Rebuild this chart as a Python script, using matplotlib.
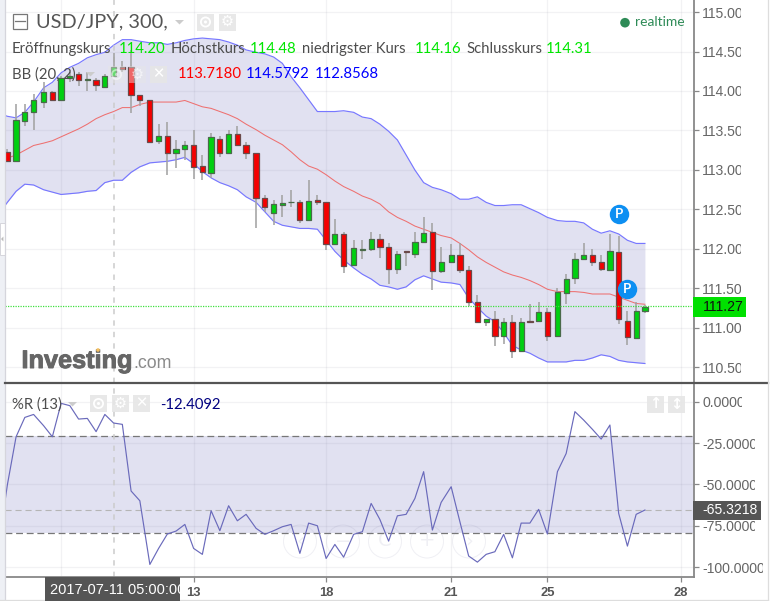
import numpy as np
import matplotlib
matplotlib.use("Agg")
import matplotlib.pyplot as plt
import matplotlib.patheffects as pe
from matplotlib.patches import Rectangle, Circle, Polygon
from matplotlib.transforms import Bbox

plt.rcParams['font.family'] = ['Liberation Sans', 'DejaVu Sans']

opens = [113.23,113.11,113.62,113.73,113.86,113.99,113.89,114.17,114.21,114.14,114.14,114.05,114.19,114.30,114.30,113.95,113.89,113.37,113.43,113.21,113.26,113.31,113.05,112.96,113.39,113.21,113.46,113.32,113.21,112.65,112.45,112.56,112.59,112.59,112.37,112.62,112.59,112.06,112.19,111.80,111.99,112.00,112.13,112.03,111.75,111.97,111.94,112.09,112.22,111.72,111.83,111.93,111.74,111.33,111.07,111.11,110.90,111.07,110.71,111.09,111.09,111.20,110.90,111.44,111.63,111.87,111.92,111.83,111.73,111.96,111.09,110.87,111.21]
highs = [113.27,113.83,113.84,113.96,114.12,114.00,114.19,114.24,114.24,114.24,114.16,114.22,114.48,114.38,114.52,113.95,113.89,113.58,113.61,113.38,113.37,113.51,113.19,113.47,113.43,113.50,113.56,113.36,113.21,112.68,112.62,112.68,112.75,112.62,112.87,112.68,112.59,112.38,112.22,112.11,112.11,112.22,112.19,112.08,111.98,111.97,112.22,112.41,112.33,112.03,112.06,112.07,111.79,111.42,111.11,111.21,111.12,111.17,111.13,111.30,111.33,111.25,111.50,111.68,111.95,112.08,112.00,111.92,112.19,112.16,111.21,111.33,111.29]
lows = [113.11,113.11,113.56,113.51,113.79,113.87,113.89,114.11,114.06,114.00,114.00,114.05,114.18,114.24,113.72,113.81,113.35,113.33,112.94,113.03,113.13,112.88,112.87,112.90,113.17,113.21,113.30,113.14,112.27,112.47,112.30,112.40,112.53,112.33,112.35,112.56,111.99,112.06,111.69,111.80,111.87,111.97,111.89,111.56,111.68,111.78,111.89,112.09,111.48,111.70,111.82,111.70,111.28,111.06,111.03,110.77,110.80,110.62,110.71,111.07,111.07,110.83,110.90,111.30,111.56,111.87,111.78,111.72,111.72,111.05,110.78,110.87,111.19]
closes = [113.11,113.63,113.73,113.88,113.99,113.89,114.17,114.19,114.14,114.15,114.07,114.19,114.30,114.28,113.95,113.89,113.35,113.43,113.21,113.26,113.32,113.04,112.97,113.42,113.21,113.46,113.31,113.21,112.64,112.53,112.57,112.58,112.60,112.37,112.61,112.59,112.06,112.19,111.78,112.01,112.00,112.13,112.02,111.75,111.94,111.96,112.09,112.20,111.72,111.83,111.92,111.74,111.33,111.07,111.11,110.90,111.07,110.71,111.07,111.07,111.20,110.90,111.45,111.62,111.87,111.92,111.83,111.75,111.97,111.11,110.88,111.22,111.27]

# Series start one bar before the first visible candle
bb_upper = [113.72,113.68,113.66,113.73,113.86,114.04,114.11,114.23,114.30,114.35,114.42,114.46,114.49,114.58,114.65,114.65,114.63,114.61,114.61,114.59,114.61,114.64,114.66,114.67,114.66,114.65,114.62,114.58,114.52,114.49,114.47,114.43,114.35,114.18,114.04,113.89,113.74,113.74,113.74,113.75,113.73,113.67,113.65,113.58,113.49,113.38,113.19,113.00,112.84,112.78,112.75,112.70,112.63,112.63,112.66,112.59,112.55,112.55,112.56,112.56,112.51,112.46,112.40,112.36,112.35,112.35,112.33,112.25,112.20,112.23,112.19,112.11,112.07,112.07]
bb_mid = [113.12,113.15,113.19,113.25,113.31,113.34,113.37,113.42,113.47,113.52,113.58,113.65,113.70,113.74,113.79,113.79,113.83,113.86,113.86,113.86,113.86,113.88,113.84,113.80,113.78,113.74,113.70,113.65,113.58,113.51,113.44,113.38,113.32,113.23,113.13,113.05,113.01,112.94,112.86,112.79,112.73,112.67,112.63,112.57,112.47,112.40,112.35,112.29,112.25,112.21,112.17,112.14,112.07,111.99,111.90,111.83,111.77,111.71,111.67,111.64,111.60,111.55,111.49,111.46,111.46,111.46,111.45,111.43,111.43,111.43,111.39,111.35,111.31,111.30]
bb_lower = [112.44,112.59,112.73,112.82,112.81,112.75,112.72,112.69,112.70,112.71,112.73,112.74,112.84,112.87,112.87,112.97,113.04,113.09,113.10,113.11,113.13,113.16,113.08,112.98,112.90,112.84,112.80,112.75,112.66,112.59,112.47,112.35,112.30,112.28,112.26,112.26,112.25,112.11,111.97,111.86,111.76,111.68,111.62,111.54,111.52,111.49,111.52,111.61,111.66,111.62,111.58,111.57,111.55,111.38,111.26,111.15,111.08,110.94,110.78,110.72,110.68,110.62,110.57,110.57,110.57,110.59,110.59,110.62,110.66,110.64,110.59,110.57,110.56,110.55]
williams_r = [-87.3,-50.4,-21.2,-9.5,-7.7,-14.5,-21.2,-1.0,-2.4,-10.5,-10.1,-18.1,-7.7,-12.9,-13.7,-54.0,-59.9,-98.4,-88.7,-80.0,-78.2,-74.2,-88.7,-92.3,-65.9,-78.0,-62.9,-72.0,-68.1,-76.6,-80.2,-78.0,-75.6,-74.2,-91.7,-73.4,-75.0,-94.8,-86.3,-94.0,-80.2,-78.6,-61.5,-71.2,-84.3,-69.0,-68.1,-58.5,-42.3,-77.6,-60.9,-51.4,-72.6,-93.3,-97.0,-92.3,-90.7,-80.2,-94.4,-73.4,-73.4,-65.1,-80.0,-42.3,-31.3,-6.0,-11.1,-16.7,-22.6,-14.1,-67.5,-87.3,-68.1,-65.5]

price_ticks = [110.5,111.0,111.5,112.0,112.5,113.0,113.5,114.0,114.5,115.0]
r_ticks = [0,-25,-50,-75,-100]
date_tick_bars = [6,21,36,50,61,76]
date_tick_labels = ['','13','18','21','25','28']
session_breaks = [3,15,27,38,49,61,73]
last_price = 111.28
last_r = -65.32
r_upper, r_lower = -20.6, -79.6
cross_bar = 12
pivot_bars = [69,70]
pivot_prices = [112.44,111.49]

W, H = 770, 601
C_TXT = '#4d4d4d'; C_AX = '#666666'; C_GREEN = '#00e600'; C_FILL = (0.35,0.35,0.7,0.175); C_GRID = (0.5,0.5,0.6,0.10)

def bar_pos(i):
    i = np.asarray(i)
    return i + 0.145*np.searchsorted(session_breaks, i, side='left')

fig = plt.figure(figsize=(W/100, H/100), dpi=100, facecolor='white')
def mk(x0,y0,x1,y1):
    return fig.add_axes([x0/W, 1-y1/H, (x1-x0)/W, (y1-y0)/H])
ax = mk(5,0,694,382.7)
ax2 = mk(5,382.7,694,577)
xl = (-0.266,78.48)
for a in (ax,ax2):
    a.set_xlim(*xl)
    for s in ('left','top','bottom'):
        a.spines[s].set_visible(False)
    a.spines['right'].set_color('#888888'); a.spines['right'].set_linewidth(1.3)
    a.yaxis.tick_right()
ax.set_ylim(110.307,115.152)
ax2.set_ylim(-105.99,11.49)
ax2.spines['bottom'].set_visible(True); ax2.spines['bottom'].set_color('#888888'); ax2.spines['bottom'].set_linewidth(1.3)

idx = np.arange(len(opens))
pos = bar_pos(idx)
lpos = bar_pos(np.arange(-1,len(opens)))
op,hi,lo,cl = map(np.array,(opens,highs,lows,closes))

# grid
tpos = bar_pos(date_tick_bars)
for a,ticks in ((ax,price_ticks),(ax2,r_ticks)):
    for t in ticks:
        a.axhline(t,color=C_GRID,lw=0.9,zorder=1.5)
    for t in tpos:
        a.axvline(t,color=C_GRID,lw=0.9,zorder=1.5)

# bollinger
ax.fill_between(lpos,bb_lower,bb_upper,color=C_FILL,lw=0,zorder=1)
ax.plot(lpos,bb_upper,color='#7777ff',lw=0.85,zorder=2)
ax.plot(lpos,bb_lower,color='#7777ff',lw=0.85,zorder=2)
ax.plot(lpos,bb_mid,color='#ee7070',lw=0.75,zorder=2)

# candles
ax.vlines(pos,lo,hi,color='#a3a3a3',lw=1.15,zorder=3)
up = cl>=op
ax.bar(pos[up],(cl-op)[up],bottom=op[up],width=0.6,color='#00d010',edgecolor='#4a6a4a',lw=0.9,zorder=4)
ax.bar(pos[~up],(cl-op)[~up],bottom=op[~up],width=0.6,color='#f50000',edgecolor='#6a4a4a',lw=0.9,zorder=4)

ax.axhline(last_price,color='#40e040',lw=0.9,ls=(0,(1,1)),zorder=5)
ax.plot(bar_pos(pivot_bars),pivot_prices,ls='none',marker='o',ms=14,mfc='#0d8ff2',mec='none',zorder=6)
for b,p in zip(pivot_bars,pivot_prices):
    ax.text(bar_pos(b),p,'P',color='white',ha='center',va='center',fontsize=9.5,family='Lato',weight='bold',zorder=7)

# %R
ax2.axhspan(r_lower,r_upper,color=C_FILL,lw=0,zorder=1)
ax2.axhline(r_upper,color='#777777',lw=0.9,ls=(0,(5.5,3)),zorder=2)
ax2.axhline(r_lower,color='#777777',lw=0.9,ls=(0,(5.5,3)),zorder=2)
ax2.axhline(last_r,color='#b5b5b5',lw=0.8,ls=(0,(5.5,3.5)),zorder=2)
ax2.plot(lpos,williams_r,color='#6a6abb',lw=0.85,zorder=3)

for a in (ax,ax2):
    a.axvline(bar_pos(cross_bar),color='#cccccc',lw=1.1,ls=(0,(3.5,4)),zorder=2.5)

# axes ticks
def clip_px(t,x0,y0,x1,y1):
    t.set_clip_box(Bbox.from_extents(x0,H-y1,x1,H-y0)); t.set_clip_on(True)

ax.set_xticks([])
ax.set_yticks(price_ticks); ax.set_yticklabels([f'{v:.2f}' for v in price_ticks])
ax2.set_yticks(r_ticks); ax2.set_yticklabels([f'{v:.4f}' for v in r_ticks])
ax2.set_xticks(tpos); ax2.set_xticklabels(date_tick_labels,fontsize=9.4,fontweight='bold',color='#555555')
for a in (ax,ax2):
    a.tick_params(axis='y',length=3.6,width=0.9,color='#888888',labelcolor=C_AX,labelsize=10.1,pad=2.4)
ax2.tick_params(axis='x',length=3.6,width=0.9,color='#888888',pad=3.5)
for tk in ax.yaxis.get_major_ticks():
    clip_px(tk.label2,694,0,741,383)
for tk,x1 in zip(ax2.yaxis.get_major_ticks(),[741.5,755,755,755,763]):
    clip_px(tk.label2,694,383,x1,580)

# overlay for page furniture and annotations
ov = fig.add_axes([0,0,1,1],zorder=10)
ov.set_xlim(0,W); ov.set_ylim(H,0); ov.axis('off'); ov.patch.set_alpha(0)
def rect(x0,y0,x1,y1,fc,ec='none',lw=0,alpha=None,z=1):
    ov.add_patch(Rectangle((x0,y0),x1-x0,y1-y0,fc=fc,ec=ec,lw=lw,alpha=alpha,zorder=z))
def txt(x,y,s,c=C_TXT,size=10,fam='Lato',**k):
    return ov.text(x,y,s,color=c,fontsize=size,family=fam,va='center',ha=k.pop('ha','left'),zorder=k.pop('z',5),**k)

rect(0,0,4.5,H,'#eef0f5')
ov.plot([4.8,4.8],[0,H],color='#d5d5dc',lw=0.9)
rect(0,223,4.8,255,'white',ec='#d5d5dc',lw=0.7)
ov.add_patch(Polygon([[1,239],[3.4,236.5],[3.4,241.5]],fc='#bbbbbb',ec='none',zorder=3))
ov.plot([5,768],[382.7,382.7],color='#555555',lw=1.6,zorder=2)
ov.plot([768,768],[0,H],color='#dddddd',lw=0.9)
ov.plot([0,768],[600.3,600.3],color='#dddddd',lw=0.9)

# faint chart navigation circles
for cx,g in zip([300,343,385,427,469],['‹','−','C','+','›']):
    ov.add_patch(Circle((cx,541.5),16.5,fc='none',ec='#8888aa',alpha=0.13,lw=0.7,zorder=1))
    ov.text(cx,541,g,color='#8888aa',alpha=0.13,fontsize=14,family='DejaVu Sans',ha='center',va='center',zorder=1)

# header
rect(12.5,13.5,27,28.5,'white',ec='#777777',lw=0.9)
ov.plot([15,24.5],[21,21],color='#777777',lw=0.9)
txt(36,22,'USD/JPY, 300,',c='#555555',size=14.4)
def tri(x0,x1,y0,y1):
    ov.add_patch(Polygon([[x0,y0],[x1,y0],[(x0+x1)/2,y1]],fc='#cccccc',ec='none',zorder=4))
def icon(x0,y0,s,kind,fc='#e6e6e6',alpha=0.9,galpha=1.0):
    rect(x0,y0,x0+s,y0+s,fc,alpha=alpha,z=4)
    cx,cy = x0+s/2,y0+s/2
    if kind=='eye':
        ov.add_patch(Circle((cx,cy),s*0.27,fc='none',ec='white',lw=1.3,alpha=galpha,zorder=5))
        ov.add_patch(Circle((cx,cy),s*0.09,fc='white',ec='none',alpha=galpha,zorder=5))
    else:
        txt(cx,cy-0.5,kind,c='white',size=s*0.62,fam='DejaVu Sans',ha='center',fontweight='bold',alpha=galpha)
tri(175,184,20,24.5)
icon(197,13.5,17,'eye'); icon(218.5,13.5,17,'⚙')

for x,s,c in [(12,'Eröffnungskurs',C_TXT),(119,'114.20',C_GREEN),(170.5,'Höchstkurs',C_TXT),(250,'114.48',C_GREEN),
              (302,'niedrigster Kurs',C_TXT),(415,'114.16',C_GREEN),(466,'Schlusskurs',C_TXT),(546,'114.31',C_GREEN)]:
    txt(x,49,s,c=c,size=10.7)
for x,s,c in [(12,'BB (20, 2)',C_TXT),(177.5,'113.7180','#ff0000'),(246,'114.5792','#0000ff'),(315,'112.8568','#0000ff')]:
    txt(x,74.5,s,c=c,size=10.7)
tri(86,95,72,76.5)
icon(108,66,17,'eye',alpha=0.45,galpha=0.5); icon(129,66,17,'⚙',alpha=0.45,galpha=0.6); icon(150,66,17,'✕',alpha=0.9)

ov.add_patch(Circle((625,22.7),4.8,fc='#2e8b57',ec='none',zorder=5))
txt(635,21.5,'realtime',c='#2e8b57',size=9.9)

# logo
lg = txt(21.5,361,'Investing',c='#666666',size=18.2,fam='Liberation Sans',fontweight='bold')
lg.set_path_effects([pe.withStroke(linewidth=0.7,foreground='#666666')])
txt(133,363.5,'.com',c='#8a8a8a',size=12.8,fam='Liberation Sans')
ov.add_patch(Circle((98,350),1.8,fc='#f5c060',ec='none',zorder=6))

# price labels
rect(693,296.7,746,316.7,'#00e000',z=4)
txt(703,307,'111.27',c='#111111',size=10.1,fam='Liberation Sans')
rect(693,500.7,761,520,'#555555',z=4)
txt(702,510.5,'-65.3218',c='white',size=10.1,fam='Liberation Sans')

# %R header
txt(12,404.5,'%R (13)',size=10.7)
tri(68,77,402,406.5)
icon(90,395,17,'eye'); icon(112,395,17,'⚙'); icon(133,395,17,'✕')
txt(160,405,'-12.4092',c='#000080',size=10.7)
icon(647,396,17,'↑'); icon(668,396,17,'↕')

# crosshair date
rect(45,577,180,601,'#555555',z=6)
t = txt(50,590,'2017-07-11 05:00:00',c='white',size=10.5,fam='Liberation Sans',z=7)
clip_px(t,45,577,180,601)

fig.savefig('out.png',dpi=100,facecolor='white')
